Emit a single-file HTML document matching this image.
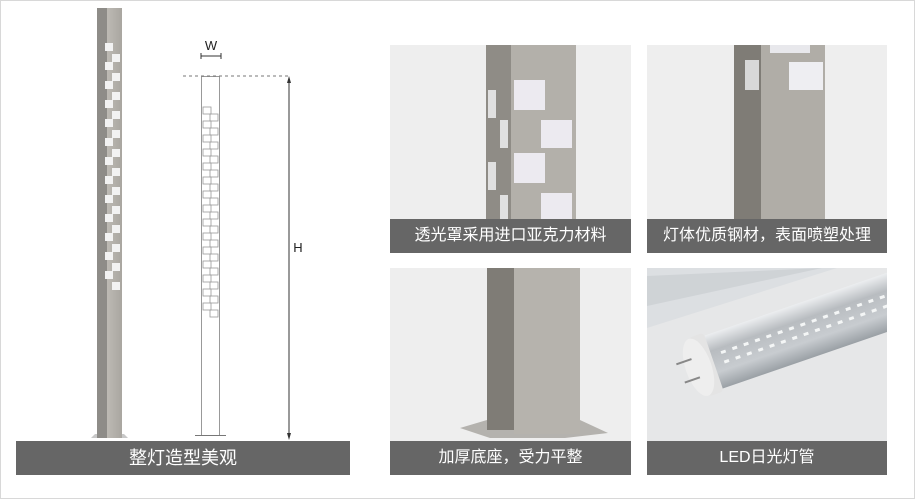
<!DOCTYPE html>
<html><head><meta charset="utf-8"><style>
html,body{margin:0;padding:0;background:#fff;}
body{width:915px;height:499px;overflow:hidden;position:relative;font-family:"Liberation Sans","Noto Sans CJK SC",sans-serif;}
.cap{position:absolute;background:#666;color:#fff;text-align:center;font-size:16px;line-height:34px;height:34px;}
</style></head><body>
<svg width="915" height="499" style="position:absolute;left:0;top:0">
<defs>
<linearGradient id="lf" x1="0" x2="1"><stop offset="0" stop-color="#bdbab4"/><stop offset="1" stop-color="#a9a6a0"/></linearGradient>
<linearGradient id="tb" x1="0" y1="0" x2="0" y2="1"><stop offset="0" stop-color="#eceef0"/><stop offset="0.3" stop-color="#b8bcc0"/><stop offset="0.7" stop-color="#c8ccd0"/><stop offset="1" stop-color="#9aa0a5"/></linearGradient>
<clipPath id="cp"><rect x="0" y="0" width="240" height="173"/></clipPath>
</defs>
<rect x="0.5" y="0.5" width="914" height="498" fill="none" stroke="#d8d8d8"/>
<polygon points="91,438 128,438 124,434 95,434" fill="#c8c8c8"/>
<rect x="97" y="8" width="10" height="430" fill="#8e8c88"/>
<rect x="107" y="8" width="15" height="430" fill="url(#lf)"/>
<g fill="#f2f2f2">
<rect x="105" y="43" width="8" height="8"/><rect x="112" y="54" width="8" height="8"/>
<rect x="105" y="62" width="8" height="8"/><rect x="112" y="73" width="8" height="8"/>
<rect x="105" y="81" width="8" height="8"/><rect x="112" y="92" width="8" height="8"/>
<rect x="105" y="100" width="8" height="8"/><rect x="112" y="111" width="8" height="8"/>
<rect x="105" y="119" width="8" height="8"/><rect x="112" y="130" width="8" height="8"/>
<rect x="105" y="138" width="8" height="8"/><rect x="112" y="149" width="8" height="8"/>
<rect x="105" y="157" width="8" height="8"/><rect x="112" y="168" width="8" height="8"/>
<rect x="105" y="176" width="8" height="8"/><rect x="112" y="187" width="8" height="8"/>
<rect x="105" y="195" width="8" height="8"/><rect x="112" y="206" width="8" height="8"/>
<rect x="105" y="214" width="8" height="8"/><rect x="112" y="225" width="8" height="8"/>
<rect x="105" y="233" width="8" height="8"/><rect x="112" y="244" width="8" height="8"/>
<rect x="105" y="252" width="8" height="8"/><rect x="112" y="263" width="8" height="8"/>
<rect x="105" y="271" width="8" height="8"/><rect x="112" y="282" width="8" height="8"/>
</g>
<rect x="201.5" y="76.5" width="18" height="359" fill="none" stroke="#999" stroke-width="1"/>
<line x1="195" y1="435.5" x2="226" y2="435.5" stroke="#777"/>
<g fill="none" stroke="#999" stroke-width="0.8">
<rect x="203" y="107" width="8" height="7"/>
<rect x="210" y="114" width="8" height="7"/><rect x="203" y="121" width="8" height="7"/>
<rect x="210" y="128" width="8" height="7"/><rect x="203" y="135" width="8" height="7"/>
<rect x="210" y="142" width="8" height="7"/><rect x="203" y="149" width="8" height="7"/>
<rect x="210" y="156" width="8" height="7"/><rect x="203" y="163" width="8" height="7"/>
<rect x="210" y="170" width="8" height="7"/><rect x="203" y="177" width="8" height="7"/>
<rect x="210" y="184" width="8" height="7"/><rect x="203" y="191" width="8" height="7"/>
<rect x="210" y="198" width="8" height="7"/><rect x="203" y="205" width="8" height="7"/>
<rect x="210" y="212" width="8" height="7"/><rect x="203" y="219" width="8" height="7"/>
<rect x="210" y="226" width="8" height="7"/><rect x="203" y="233" width="8" height="7"/>
<rect x="210" y="240" width="8" height="7"/><rect x="203" y="247" width="8" height="7"/>
<rect x="210" y="254" width="8" height="7"/><rect x="203" y="261" width="8" height="7"/>
<rect x="210" y="268" width="8" height="7"/><rect x="203" y="275" width="8" height="7"/>
<rect x="210" y="282" width="8" height="7"/><rect x="203" y="289" width="8" height="7"/>
<rect x="210" y="296" width="8" height="7"/><rect x="203" y="303" width="8" height="7"/>
<rect x="210" y="310" width="8" height="7"/>
</g>
<line x1="183" y1="76" x2="290" y2="76" stroke="#777" stroke-dasharray="3,3"/>
<line x1="289" y1="80" x2="289" y2="436" stroke="#333"/>
<polygon points="289,76 287,83 291,83" fill="#333"/>
<polygon points="289,440 287,433 291,433" fill="#333"/>
<line x1="201" y1="56" x2="221" y2="56" stroke="#333"/>
<line x1="201" y1="53" x2="201" y2="59" stroke="#333"/><line x1="221" y1="53" x2="221" y2="59" stroke="#333"/>
<text x="211" y="50" font-size="13" text-anchor="middle" fill="#222" font-family="Liberation Sans">W</text>
<text x="298" y="252" font-size="13" text-anchor="middle" fill="#222" font-family="Liberation Sans">H</text>
<rect x="390" y="45" width="241" height="174" fill="#eeeeee"/>
<rect x="647" y="45" width="240" height="174" fill="#eeeeee"/>
<rect x="390" y="268" width="241" height="173" fill="#eeeeee"/>
<rect x="486" y="45" width="25" height="174" fill="#8f8c86"/>
<rect x="511" y="45" width="65" height="174" fill="#b3b0aa"/>
<g fill="#eceaf0"><rect x="514" y="80" width="31" height="30"/><rect x="541" y="120" width="31" height="28"/><rect x="514" y="153" width="31" height="30"/><rect x="541" y="193" width="31" height="26"/></g>
<g fill="#e0e0e0"><rect x="488" y="90" width="8" height="28"/><rect x="500" y="120" width="8" height="28"/><rect x="488" y="162" width="8" height="28"/><rect x="500" y="195" width="8" height="24"/></g>
<rect x="734" y="45" width="27" height="174" fill="#7f7c76"/>
<rect x="761" y="45" width="64" height="174" fill="#b0ada7"/>
<rect x="789" y="62" width="34" height="28" fill="#eeeef2"/>
<rect x="770" y="45" width="40" height="8" fill="#e8e8ec"/>
<rect x="745" y="60" width="14" height="30" fill="#d8d8d8"/>
<polygon points="460,428 487,420 580,420 608,433 565,438 490,438" fill="#b4b2ae"/>
<rect x="487" y="268" width="27" height="162" fill="#7f7c76"/>
<rect x="514" y="268" width="66" height="166" fill="#b6b3ad"/>
<g transform="translate(647,268)">
<g clip-path="url(#cp)">
<rect x="0" y="0" width="240" height="173" fill="#e6e7e8"/>
<polygon points="0,0 190,0 0,60" fill="#dcdfe2"/>
<polygon points="0,8 175,0 0,38" fill="#c9cdd1" opacity="0.7"/>
<g transform="translate(55,97) rotate(-19)">
<rect x="0" y="-27" width="230" height="56" fill="url(#tb)"/>
<g fill="#f4f6f6">
<rect x="22" y="-7" width="5" height="3"/><rect x="34" y="-7" width="5" height="3"/><rect x="46" y="-7" width="5" height="3"/><rect x="58" y="-7" width="5" height="3"/><rect x="70" y="-7" width="5" height="3"/><rect x="82" y="-7" width="5" height="3"/><rect x="94" y="-7" width="5" height="3"/><rect x="106" y="-7" width="5" height="3"/><rect x="118" y="-7" width="5" height="3"/><rect x="130" y="-7" width="5" height="3"/><rect x="142" y="-7" width="5" height="3"/><rect x="154" y="-7" width="5" height="3"/><rect x="166" y="-7" width="5" height="3"/><rect x="178" y="-7" width="5" height="3"/><rect x="190" y="-7" width="5" height="3"/><rect x="202" y="-7" width="5" height="3"/>
<rect x="22" y="3" width="5" height="3"/><rect x="34" y="3" width="5" height="3"/><rect x="46" y="3" width="5" height="3"/><rect x="58" y="3" width="5" height="3"/><rect x="70" y="3" width="5" height="3"/><rect x="82" y="3" width="5" height="3"/><rect x="94" y="3" width="5" height="3"/><rect x="106" y="3" width="5" height="3"/><rect x="118" y="3" width="5" height="3"/><rect x="130" y="3" width="5" height="3"/><rect x="142" y="3" width="5" height="3"/><rect x="154" y="3" width="5" height="3"/><rect x="166" y="3" width="5" height="3"/><rect x="178" y="3" width="5" height="3"/><rect x="190" y="3" width="5" height="3"/><rect x="202" y="3" width="5" height="3"/>
</g>
<rect x="-4" y="-30" width="16" height="62" rx="4" fill="#e4e4e4"/>
<ellipse cx="-4" cy="1" rx="13" ry="30" fill="#eeeeee"/>
<line x1="-8" y1="-9" x2="-24" y2="-9" stroke="#888" stroke-width="2"/>
<line x1="-6" y1="11" x2="-22" y2="11" stroke="#888" stroke-width="2"/>
</g>
</g>
</g>
</svg>
<div class="cap" style="left:16px;top:441px;width:334px;font-size:18px;">整灯造型美观</div>
<div class="cap" style="left:390px;top:219px;width:241px;">透光罩采用进口亚克力材料</div>
<div class="cap" style="left:647px;top:219px;width:240px;">灯体优质钢材，表面喷塑处理</div>
<div class="cap" style="left:390px;top:441px;width:241px;">加厚底座，受力平整</div>
<div class="cap" style="left:647px;top:441px;width:240px;">LED日光灯管</div>
</body></html>
